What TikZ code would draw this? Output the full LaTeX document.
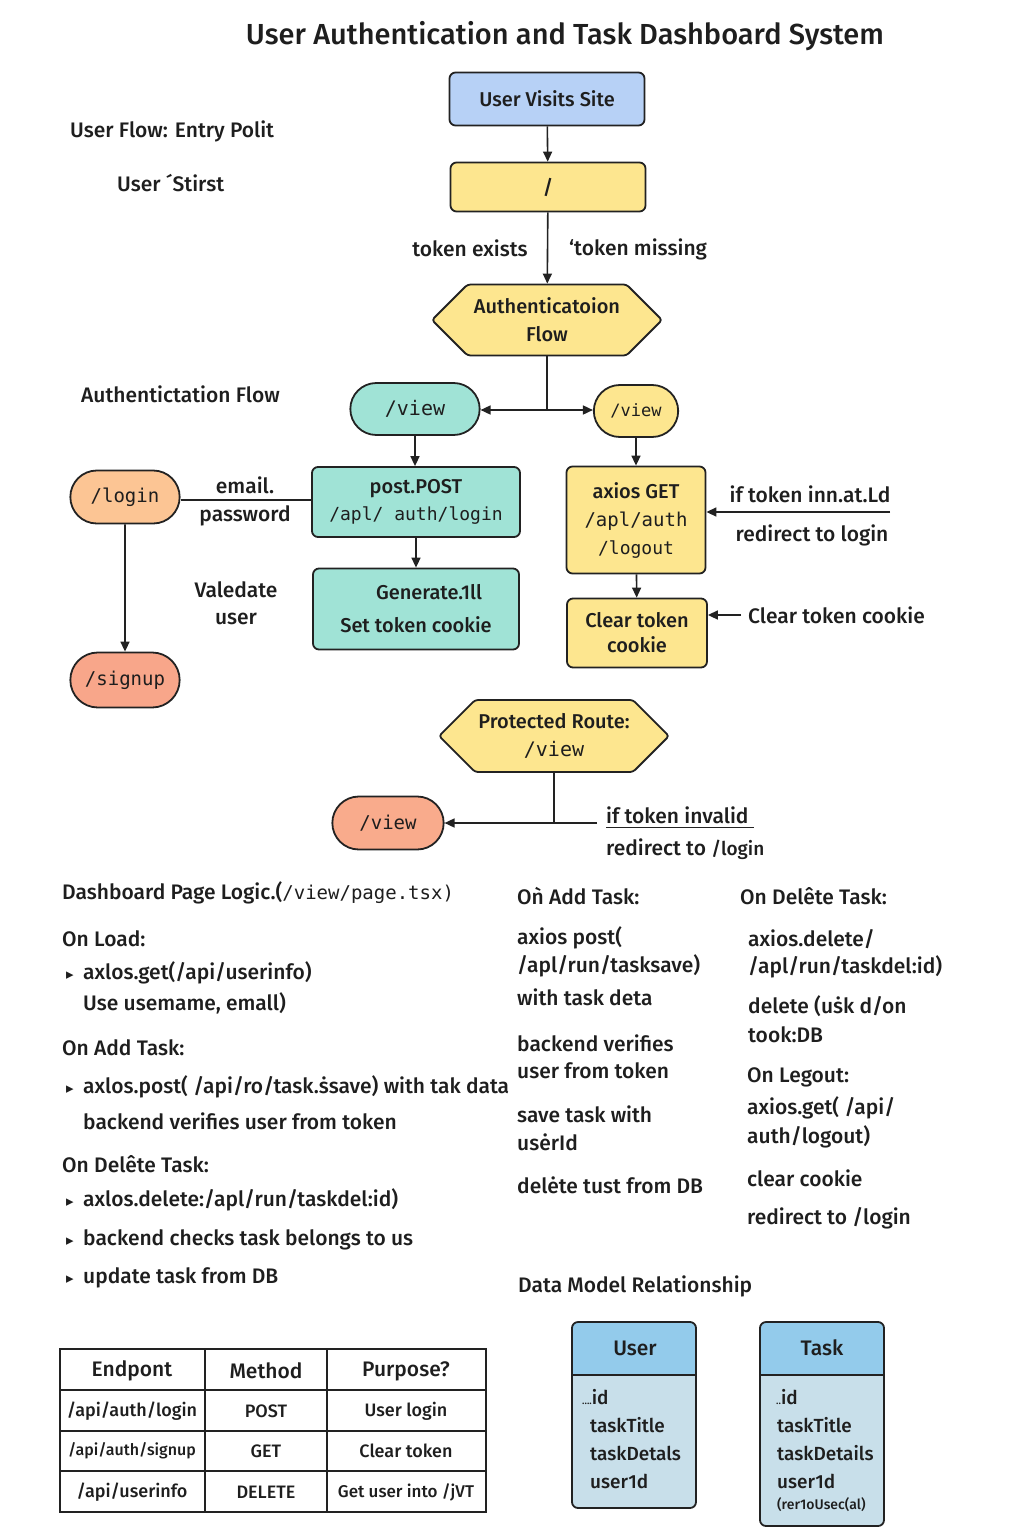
\documentclass[tikz,border=0pt]{standalone}
\usepackage{fontspec}
\setmainfont{Fira Sans Medium}
\setmonofont{DejaVu Sans Mono}
\newfontfamily\symfont{DejaVu Sans}
\usetikzlibrary{arrows.meta, shapes.misc, shapes.symbols}
\newcommand\fsz[2]{\fontsize{#1}{#2}\selectfont}
\newcommand\bul{\makebox[17pt][l]{\symfont\fsz{15}{15}▸}}
\definecolor{edge}{HTML}{222222}
\definecolor{ink}{HTML}{1E1E1E}
\definecolor{visitblue}{HTML}{B7D1F6}
\definecolor{tokyellow}{HTML}{FDE68F}
\definecolor{viewteal}{HTML}{A0E3D6}
\definecolor{loginorange}{HTML}{FCC594}
\definecolor{signupsalmon}{HTML}{F8A68A}
\definecolor{viewsalmon}{HTML}{F9AB8C}
\definecolor{enthead}{HTML}{93CBEB}
\definecolor{entbody}{HTML}{C8DFEA}
\def\userent{(572,1322) rectangle (696,1508)}
\def\taskent{(760,1322) rectangle (884,1526)}
\tikzset{
  box/.style={draw=edge, line width=1.8pt, rounded corners=6pt, align=center, inner sep=2pt, text=ink, font=\fsz{20}{28}},
  pill/.style={rounded rectangle, draw=edge, line width=1.8pt, text=ink, font=\ttfamily\fsz{19}{22}},
  hexa/.style={signal, signal to=west and east, signal pointer angle=90, draw=edge, line width=1.8pt, rounded corners=3pt, fill=tokyellow, align=center, text=ink, font=\fsz{20}{28}},
  flow/.style={draw=edge, line width=1.6pt, -{Triangle[length=10pt, width=9pt]}},
  link/.style={draw=edge, line width=1.6pt},
  lbl/.style={inner sep=0pt, text=ink, font=\fsz{21}{25}},
  note/.style={lbl, anchor=west},
  cell/.style={lbl, font=\fsz{18}{22}},
  field/.style={lbl, anchor=west, font=\fsz{19}{22}}
}
\begin{document}
\begin{tikzpicture}[x=1pt, y=-1pt]
  \useasboundingbox[fill=white] (0,0) rectangle (1024,1536);
  \node[lbl, font=\fsz{29}{33}] (title) at (565,36) {User Authentication and Task Dashboard System};
  \node[note] (entry) at (70,131) {User Flow: Entry Polit};
  \node[note] (start) at (117,183) {User ´Stirst};
  \node[note] (authnote) at (81,394) {Authentictation Flow};

  % entry and authentication flow
  \node[box, fill=visitblue, minimum width=195pt, minimum height=53pt] (visit) at (547,99) {User Visits Site};
  \node[box, fill=tokyellow, minimum width=195pt, minimum height=49pt] (root) at (548,187) {/};
  \node[lbl] (exists) at (470,248) {token exists};
  \node[lbl] (missing) at (638,249) {`token missing};
  \node[hexa, minimum width=230pt, minimum height=71pt] (authhex) at (547,320) {Authenticatoion\\Flow};
  \coordinate (split) at (547,410);
  \node[pill, fill=viewteal, minimum width=136pt, minimum height=52pt, font=\ttfamily\fsz{20}{22}] (viewA) at (415,409) {/view};
  \node[pill, fill=tokyellow, minimum width=91pt, minimum height=52pt, font=\ttfamily\fsz{17}{20}] (viewB) at (636,411) {/view};
  \node[box, fill=viewteal, minimum width=208pt, minimum height=70pt, font=\fsz{20}{27}] (post) at (416,502) {post.POST\\{\ttfamily\fsz{18}{27}/apl/ auth/login}};
  \node[box, fill=viewteal, minimum width=206pt, minimum height=81pt, font=\fsz{20}{33}] (gen) at (416,609) {\hspace*{26pt}Generate.1ll\\Set token cookie};
  \node[pill, fill=loginorange, minimum width=116pt, minimum height=53pt] (login) at (125,497) {/login};
  \node[lbl] (email) at (245,485) {email.};
  \node[lbl] (pass) at (245,516) {password};
  \node[pill, fill=signupsalmon, minimum width=116pt, minimum height=55pt] (signup) at (125,680) {/signup};
  \node[lbl, align=center, font=\fsz{21}{27}] (validate) at (236,603) {Valedate\\user};
  \node[box, fill=tokyellow, minimum width=139pt, minimum height=107pt, font=\fsz{20}{28}] (logout) at (636,520) {axios GET\\{\ttfamily\fsz{19}{28}/apl/auth}\\{\ttfamily\fsz{18}{28}/logout}};
  \node[lbl] (invalid) at (810,494) {if token inn.at.Ld};
  \node[lbl] (redir) at (812,535) {redirect to login};
  \coordinate (invin) at (890,512);
  \node[box, fill=tokyellow, minimum width=140pt, minimum height=69pt, font=\fsz{20}{25}] (clear) at (637,633) {Clear token\\cookie};
  \node[note] (clearnote) at (748,615) {Clear token cookie};
  \coordinate (clrin) at (741,615);

  % protected route
  \node[hexa, minimum width=228pt, minimum height=72pt] (prot) at (554,736) {Protected Route:\\{\ttfamily\fsz{20}{28}/view}};
  \node[pill, fill=viewsalmon, minimum width=118pt, minimum height=53pt] (viewC) at (388,823) {/view};
  \coordinate (pjoin) at (554,823);
  \coordinate (pin) at (597,823);
  \node[note, inner ysep=4pt] (tokinv) at (606,815) {if token invalid};
  \node[note] (tologin) at (606,849) {redirect to {\fsz{19}{22}/login}};

  \draw[flow] (visit) -- (root);
  \draw[flow] (root) -- (authhex);
  \draw[link] (authhex.south) -- (split);
  \draw[flow] (split) -- (split -| viewA.east);
  \draw[flow] (split) -- (split -| viewB.west);
  \draw[flow] (viewA.south) -- (viewA.south |- post.north);
  \draw[flow] (post.south) -- (post.south |- gen.north);
  \draw[link] (login.east |- 0,500) -- (post.west |- 0,500);
  \draw[flow] (login) -- (signup);
  \draw[flow] (viewB) -- (logout);
  \draw[flow] (logout) -- (clear);
  \draw[flow] (invin) -- (invin -| logout.east);
  \draw[flow] (clrin) -- (clrin -| clear.east);
  \draw[link] (prot.south) -- (pjoin);
  \draw[flow] (pin) -- (pin -| viewC.east);
  \draw[draw=edge, line width=1pt] (tokinv.south west) -- ([xshift=5pt]tokinv.south east);

  % dashboard logic
  \node[note] (dash) at (62,893) {Dashboard Page Logic.({\ttfamily\fsz{19}{22}/view/page.tsx)}};
  \node[note] (onload) at (62,939) {On Load:};
  \node[note] (l1) at (66,973) {\bul axlos.get(/api/userinfo)};
  \node[note] (l2) at (83,1003) {Use usemame, emall)};
  \node[note] (onadd) at (62,1048) {On Add Task:};
  \node[note] (l3) at (66,1087) {\bul axlos.post( /api/ro/task.ṡsave) with tak data};
  \node[note] (l4) at (83,1121) {backend verifies user from token};
  \node[note] (ondel) at (62,1164) {On Delête Task:};
  \node[note] (l5) at (66,1200) {\bul axlos.delete:/apl/run/taskdel:id)};
  \node[note] (l6) at (66,1240) {\bul backend checks task belongs to us};
  \node[note] (l7) at (66,1278) {\bul update task from DB};

  \node[note] (madd) at (517,896) {Oǹ Add Task:};
  \node[note] (m1) at (517,938) {axios post(};
  \node[note] (m2) at (517,966) {/apl/run/tasksave)};
  \node[note] (m3) at (517,997) {with task deta};
  \node[note] (m4) at (517,1043) {backend verifies};
  \node[note] (m5) at (517,1071) {user from token};
  \node[note] (m6) at (517,1114) {save task with};
  \node[note] (m7) at (517,1142) {usėrId};
  \node[note] (m8) at (517,1185) {delėte tust from DB};

  \node[note] (rdel) at (740,896) {On Delête Task:};
  \node[note] (r1) at (748,939) {axios.delete/};
  \node[note] (r2) at (748,967) {/apl/run/taskdel:id)};
  \node[note] (r3) at (748,1006) {delete (uṡk d/on};
  \node[note] (r4) at (748,1035) {took:DB};
  \node[note] (rout) at (747,1077) {On Legout:};
  \node[note] (r5) at (747,1108) {axios.get( /api/};
  \node[note] (r6) at (747,1137) {auth/logout)};
  \node[note] (r7) at (747,1178) {clear cookie};
  \node[note] (r8) at (747,1218) {redirect to /login};

  % endpoint table
  \draw[draw=edge, line width=1.5pt] (60,1349) rectangle (486,1512);
  \foreach \yy in {1390,1431,1471}
    \draw[draw=edge, line width=1.5pt] (60,\yy) -- (486,\yy);
  \foreach \xx in {205,327}
    \draw[draw=edge, line width=1.5pt] (\xx,1349) -- (\xx,1512);
  \node[lbl] (hend) at (132,1371) {Endpont};
  \node[lbl] (hmet) at (266,1371) {Method};
  \node[lbl] (hpur) at (406,1371) {Purpose?};
  \node[cell] (e1) at (132,1411) {/api/auth/login};
  \node[cell, font=\fsz{16}{22}] (e2) at (132,1451) {/api/auth/signup};
  \node[cell] (e3) at (132,1492) {/api/userinfo};
  \node[cell] (t1) at (266,1411) {POST};
  \node[cell] (t2) at (266,1451) {GET};
  \node[cell] (t3) at (266,1492) {DELETE};
  \node[cell] (p1) at (406,1411) {User login};
  \node[cell] (p2) at (406,1451) {Clear token};
  \node[cell, font=\fsz{17}{22}] (p3) at (406,1492) {Get user into /jVT};

  % data model
  \node[note] (model) at (518,1286) {Data Model Relationship};
  \begin{scope}
    \clip[rounded corners=6pt] \userent;
    \fill[entbody] \userent;
    \fill[enthead] (572,1322) rectangle (696,1375);
  \end{scope}
  \begin{scope}
    \clip[rounded corners=6pt] \taskent;
    \fill[entbody] \taskent;
    \fill[enthead] (760,1322) rectangle (884,1375);
  \end{scope}
  \draw[draw=edge, line width=1.8pt, rounded corners=6pt] \userent;
  \draw[draw=edge, line width=1.8pt, rounded corners=6pt] \taskent;
  \draw[draw=edge, line width=1.8pt] (572,1375) -- (696,1375);
  \draw[draw=edge, line width=1.8pt] (760,1375) -- (884,1375);
  \node[lbl] (userhd) at (635,1348) {User};
  \node[lbl] (taskhd) at (822,1348) {Task};
  \node[field] (u1) at (582,1397) {{\fsz{10}{12}....}id};
  \node[field] (u2) at (590,1425) {taskTitle};
  \node[field] (u3) at (590,1453) {taskDetals};
  \node[field] (u4) at (590,1481) {user1d};
  \node[field] (k1) at (776,1397) {{\fsz{10}{12}..}id};
  \node[field] (k2) at (777,1425) {taskTitle};
  \node[field] (k3) at (777,1453) {taskDetails};
  \node[field] (k4) at (777,1481) {user1d};
  \node[field, font=\fsz{14}{16}] (k5) at (777,1505) {(rer1oUsec(al)};
\end{tikzpicture}
\end{document}
